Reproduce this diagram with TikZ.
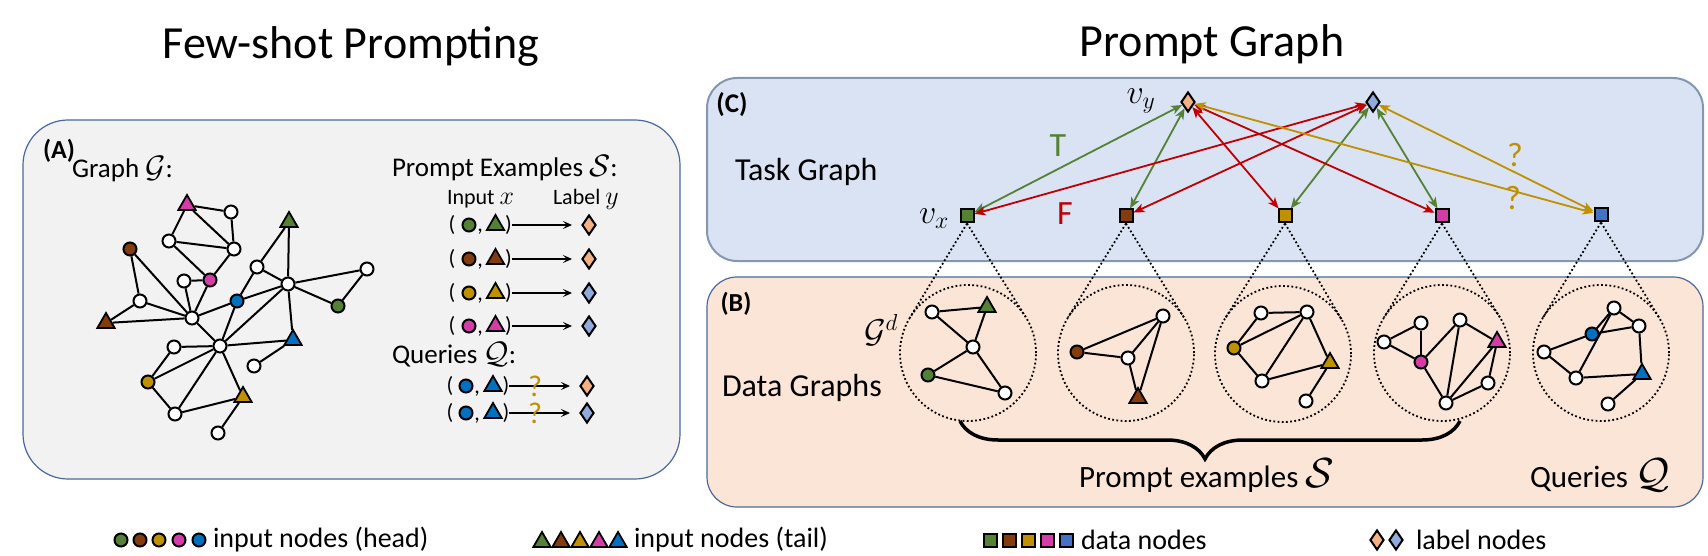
\RequirePackage{fix-cm}
\documentclass[tikz,border=0pt]{standalone}
\usepackage{fontspec}
\setmainfont{Carlito}
\usetikzlibrary{shapes.geometric,arrows.meta,calc,decorations.pathreplacing}
\definecolor{cgreen}{HTML}{548235}
\definecolor{cbrown}{HTML}{843C0C}
\definecolor{cgold}{HTML}{BF9000}
\definecolor{cpink}{HTML}{D43DA8}
\definecolor{cblue}{HTML}{0070C0}
\definecolor{sqblue}{HTML}{4472C4}
\definecolor{dorange}{HTML}{F4B183}
\definecolor{dblue}{HTML}{8FAADC}
\definecolor{fillA}{HTML}{F2F2F2}
\definecolor{fillB}{HTML}{FBE5D6}
\definecolor{fillC}{HTML}{DAE3F3}
\definecolor{edgeA}{HTML}{4A69A0}
\definecolor{edgeC}{HTML}{8497B0}
\definecolor{arrred}{HTML}{C00000}
\begin{document}
\begin{tikzpicture}[x=1pt,y=-1pt,
  wn/.style={circle,draw=black,fill=white,line width=2pt,minimum size=13pt,inner sep=0pt},
  cn/.style={circle,draw=black,fill=#1,line width=2pt,minimum size=13pt,inner sep=0pt},
  tn/.style={regular polygon,regular polygon sides=3,draw=black,fill=#1,line width=1.8pt,minimum size=20pt,inner sep=0pt},
  sqn/.style={rectangle,draw=black,fill=#1,line width=2pt,minimum size=13pt,inner sep=0pt},
  dian/.style={diamond,draw=black,fill=#1,line width=2pt,minimum width=14pt,minimum height=20pt,inner sep=0pt},
  gedge/.style={line width=2pt,draw=black},
  tarr/.style={line width=1.8pt,draw=#1,arrows={Stealth[length=11pt,width=9pt,inset=3pt]-Stealth[length=11pt,width=9pt,inset=3pt]}},
  rowarr/.style={line width=1.6pt,arrows={-Stealth[length=9pt,width=8pt,inset=4pt]}},
  dcirc/.style={circle,draw=black,line width=1.8pt,dash pattern=on 1.8pt off 2.4pt,minimum size=136pt,inner sep=0pt,outer sep=0pt},
  dline/.style={line width=1.8pt,dash pattern=on 1.8pt off 2.4pt},
  txt/.style={inner sep=0pt,outer sep=0pt},
  rowtxt/.style={inner sep=0pt,outer sep=0pt,font=\fontsize{22}{24}\selectfont},
  legtxt/.style={inner sep=0pt,outer sep=0pt,anchor=west,font=\fontsize{28}{30}\selectfont},
]
\useasboundingbox (0,0) rectangle (1708,556);

% titles
\node[font=\fontsize{46}{50}\selectfont] (title1) at (351,46) {Few-shot Prompting};
\node[font=\fontsize{46}{50}\selectfont] (title2) at (1212,44) {Prompt Graph};

% panels
\draw[fill=fillA,draw=edgeA,line width=1.2pt,rounded corners=45pt] (23,120) rectangle (680,479);
\draw[fill=fillC,draw=edgeC,line width=2pt,rounded corners=30pt] (707,78) rectangle (1703,261);
\draw[fill=fillB,draw=edgeA,line width=1.2pt,rounded corners=30pt] (707,277) rectangle (1703,507);

% ---------- (A) ----------
\node[txt,font=\bfseries\fontsize{26}{28}\selectfont] (labA) at (59,151) {(A)};
\node[txt,anchor=base west,font=\fontsize{27}{30}\selectfont] (gG) at (72,178) {Graph {\fontsize{31}{32}\selectfont$\mathcal{G}$}:};

\node[tn=cpink] (a1) at (187,205) {};
\node[wn] (a2) at (231,212) {};
\node[tn=cgreen] (a3) at (289,222) {};
\node[wn] (a4) at (169,241) {};
\node[wn] (a5) at (234,249) {};
\node[cn=cbrown] (a6) at (130,249) {};
\node[wn] (a7) at (257,267) {};
\node[wn] (a8) at (184,281) {};
\node[cn=cpink] (a9) at (210,280) {};
\node[wn] (a10) at (288,284) {};
\node[wn] (a11) at (140,301) {};
\node[cn=cblue] (a12) at (237,301) {};
\node[cn=cgreen] (a13) at (338,306) {};
\node[tn=cbrown] (a14) at (106,323) {};
\node[wn] (a15) at (192,318) {};
\node[wn] (a16) at (367,269) {};
\node[tn=cblue] (a17) at (293,340) {};
\node[wn] (a18) at (174,347) {};
\node[wn] (a19) at (220,346) {};
\node[wn] (a20) at (254,366) {};
\node[cn=cgold] (a21) at (148,382) {};
\node[tn=cgold] (a22) at (243,397) {};
\node[wn] (a23) at (175,414) {};
\node[wn] (a24) at (218,433) {};
\foreach \u/\v in {a1/a2,a1/a4,a1/a5,a2/a5,a4/a5,a4/a9,a5/a9,a6/a11,a6/a15,a8/a9,a8/a15,a9/a15,
  a11/a14,a11/a15,a14/a15,a15/a12,a12/a7,a12/a10,a7/a3,a7/a10,a3/a10,a10/a16,a10/a13,a13/a16,
  a10/a17,a15/a19,a12/a19,a10/a19,a18/a19,a19/a17,a18/a21,a21/a19,a21/a23,a19/a23,a19/a22,
  a23/a22,a22/a24,a17/a20}
  \draw[gedge] (\u) -- (\v);

\node[txt,anchor=base west,font=\fontsize{27}{30}\selectfont] (pe) at (392,177) {Prompt Examples {\fontsize{31}{32}\selectfont$\mathcal{S}$}:};
\node[txt,anchor=base west,font=\fontsize{22}{24}\selectfont] (inx) at (447,205) {Input {\fontsize{26}{26}\selectfont$x$}};
\node[txt,anchor=base west,font=\fontsize{22}{24}\selectfont] (laby) at (553,205) {Label {\fontsize{26}{26}\selectfont$y$}};
\foreach \yy/\cc/\dd [count=\i] in {225/cgreen/dorange,259/cbrown/dorange,293/cgold/dblue,326/cpink/dblue}{
  \node[rowtxt] (rpl\i) at (452,\yy) {(};
  \node[cn=\cc] (rc\i) at (469,\yy) {};
  \node[rowtxt,anchor=base] (rcm\i) at (480,\yy+7) {,};
  \node[tn=\cc] (rt\i) at (495.5,\yy) {};
  \node[rowtxt] (rpr\i) at (508.5,\yy) {)};
  \node[dian=\dd] (rd\i) at (589,\yy) {};
  \draw[rowarr] (rpr\i.east) -- ([xshift=-9pt]rd\i.west);
}
\node[txt,anchor=base west,font=\fontsize{27}{30}\selectfont] (qq) at (392,363) {Queries {\fontsize{31}{32}\selectfont$\mathcal{Q}$}:};
\foreach \yy/\dd [count=\i] in {386/dorange,413/dblue}{
  \node[rowtxt] (qpl\i) at (450,\yy) {(};
  \node[cn=cblue] (qc\i) at (466,\yy) {};
  \node[rowtxt,anchor=base] (qcm\i) at (477,\yy+7) {,};
  \node[tn=cblue] (qt\i) at (493,\yy) {};
  \node[rowtxt] (qpr\i) at (506,\yy) {)};
  \node[dian=\dd] (qd\i) at (587,\yy) {};
  \draw[rowarr] (qpr\i.east) -- ([xshift=-9pt]qd\i.west);
  \node[txt,text=cgold,font=\fontsize{30}{30}\selectfont] (qm\i) at (535,\yy) {?};
}

% ---------- (C) Task graph ----------
\node[txt,font=\bfseries\fontsize{27}{28}\selectfont] (labC) at (732,105) {(C)};
\node[txt,anchor=west,font=\fontsize{32}{34}\selectfont] (tg) at (735,172) {Task Graph};
\node[txt,font=\fontsize{34}{36}\selectfont] (vy) at (1141,101) {$v_y$};
\node[txt,font=\fontsize{34}{36}\selectfont] (vx) at (934,219) {$v_x$};

% ---------- (B) Data graphs ----------
\node[txt,font=\bfseries\fontsize{26}{28}\selectfont] (labB) at (736,304) {(B)};
\node[txt,anchor=base west,font=\fontsize{32}{34}\selectfont] (dg) at (722,396) {Data Graphs};
\node[txt,font=\fontsize{33}{34}\selectfont] (gd) at (881,330) {$\mathcal{G}^d$};

\node[dcirc] (c1) at (968,353) {};
\node[dcirc] (c2) at (1126,353) {};
\node[dcirc] (c3) at (1283,354) {};
\node[dcirc] (c4) at (1442,353) {};
\node[dcirc] (c5) at (1601,353) {};

\node[sqn=cgreen] (s1) at (967,216) {};
\node[sqn=cbrown] (s2) at (1126,216) {};
\node[sqn=cgold] (s3) at (1285,216) {};
\node[sqn=cpink] (s4) at (1442,216) {};
\node[sqn=sqblue] (s5) at (1601,215) {};
\node[dian=dorange] (y1) at (1188,102) {};
\node[dian=dblue] (y2) at (1373,102) {};

\foreach \k in {1,...,5}{
  \draw[dline] (s\k.south) -- (tangent cs:node=c\k,point={(s\k.south)},solution=1);
  \draw[dline] (s\k.south) -- (tangent cs:node=c\k,point={(s\k.south)},solution=2);
}

\draw[tarr=cgreen] (y1) -- (s1);
\draw[tarr=cgreen] (y1) -- (s2);
\draw[tarr=cgreen] (y2) -- (s3);
\draw[tarr=cgreen] (y2) -- (s4);
\draw[tarr=arrred] (y2) -- (s1);
\draw[tarr=arrred] (y2) -- (s2);
\draw[tarr=arrred] (y1) -- (s3);
\draw[tarr=arrred] (y1) -- (s4);
\draw[tarr=cgold] (y1) -- (s5);
\draw[tarr=cgold] (y2) -- (s5);

\node[txt,text=cgreen,font=\fontsize{34}{36}\selectfont] (lT) at (1058,146) {T};
\node[txt,text=arrred,font=\fontsize{34}{36}\selectfont] (lF) at (1065,214) {F};
\node[txt,text=cgold,font=\fontsize{34}{36}\selectfont] (lq1) at (1515,155) {?};
\node[txt,text=cgold,font=\fontsize{34}{36}\selectfont] (lq2) at (1513,198) {?};

% data graph 1
\node[wn] (d1a) at (932,312) {};
\node[tn=cgreen] (d1b) at (987,307) {};
\node[wn] (d1c) at (973,347) {};
\node[cn=cgreen] (d1d) at (928,375) {};
\node[wn] (d1e) at (1005,393) {};
\foreach \u/\v in {d1a/d1b,d1a/d1c,d1b/d1c,d1c/d1d,d1d/d1e,d1c/d1e} \draw[gedge] (\u) -- (\v);
% data graph 2
\node[cn=cbrown] (d2a) at (1077,352) {};
\node[wn] (d2b) at (1163,316) {};
\node[wn] (d2c) at (1128,358) {};
\node[tn=cbrown] (d2d) at (1138,398) {};
\foreach \u/\v in {d2a/d2b,d2a/d2c,d2c/d2b,d2b/d2d,d2c/d2d} \draw[gedge] (\u) -- (\v);
% data graph 3
\node[wn] (d3a) at (1261,313) {};
\node[wn] (d3b) at (1307,312) {};
\node[cn=cgold] (d3c) at (1234,348) {};
\node[tn=cgold] (d3d) at (1330,363) {};
\node[wn] (d3e) at (1262,381) {};
\node[wn] (d3f) at (1306,401) {};
\foreach \u/\v in {d3a/d3b,d3c/d3a,d3c/d3b,d3b/d3e,d3b/d3d,d3c/d3e,d3e/d3d,d3d/d3f} \draw[gedge] (\u) -- (\v);
% data graph 4
\node[wn] (d4a) at (1384,342) {};
\node[wn] (d4b) at (1421,323) {};
\node[cn=cpink] (d4c) at (1421,362) {};
\node[wn] (d4d) at (1460,320) {};
\node[tn=cpink] (d4e) at (1497,342) {};
\node[wn] (d4f) at (1488,383) {};
\node[wn] (d4g) at (1446,403) {};
\foreach \u/\v in {d4a/d4b,d4a/d4c,d4b/d4c,d4c/d4d,d4c/d4g,d4d/d4g,d4d/d4e,d4e/d4g,d4e/d4f,d4f/d4g} \draw[gedge] (\u) -- (\v);
% data graph 5
\node[wn] (d5a) at (1544,352) {};
\node[cn=cblue] (d5b) at (1592,334) {};
\node[wn] (d5c) at (1614,308) {};
\node[wn] (d5d) at (1639,326) {};
\node[wn] (d5e) at (1576,378) {};
\node[tn=cblue] (d5f) at (1642,374) {};
\node[wn] (d5g) at (1608,404) {};
\foreach \u/\v in {d5a/d5b,d5a/d5e,d5b/d5c,d5b/d5d,d5c/d5d,d5c/d5e,d5d/d5f,d5e/d5f,d5f/d5g} \draw[gedge] (\u) -- (\v);

% brace
\coordinate (brl) at (960,421);
\coordinate (brr) at (1460,421);
\draw[line width=3.5pt,decorate,decoration={brace,mirror,amplitude=38pt,aspect=0.49}] (brl) -- (brr);
\node[txt,anchor=base west,font=\fontsize{31}{34}\selectfont] (pex) at (1079,487) {Prompt examples {\fontsize{42}{42}\selectfont$\mathcal{S}$}};
\node[txt,anchor=base west,font=\fontsize{31}{34}\selectfont] (qex) at (1530,487) {Queries {\fontsize{42}{42}\selectfont$\mathcal{Q}$}};

% ---------- legend ----------
\foreach \xx/\cc [count=\i] in {121/cgreen,140/cbrown,159/cgold,179/cpink,199/cblue}
  \node[cn=\cc] (lc\i) at (\xx,540) {};
\node[legtxt] (lct) at (213,540) {input nodes (head)};
\foreach \xx/\cc [count=\i] in {542/cgreen,561/cbrown,580/cgold,599/cpink,618/cblue}
  \node[tn=\cc] (lt\i) at (\xx,542) {};
\node[legtxt] (ltt) at (634,540) {input nodes (tail)};
\foreach \xx/\cc [count=\i] in {990/cgreen,1009/cbrown,1028/cgold,1047/cpink,1066/sqblue}
  \node[sqn=\cc] (ls\i) at (\xx,540) {};
\node[legtxt] (lst) at (1081,540) {data nodes};
\node[dian=dorange] (ld1) at (1377,540) {};
\node[dian=dblue] (ld2) at (1396,540) {};
\node[legtxt] (ldt) at (1416,540) {label nodes};
\end{tikzpicture}
\end{document}
